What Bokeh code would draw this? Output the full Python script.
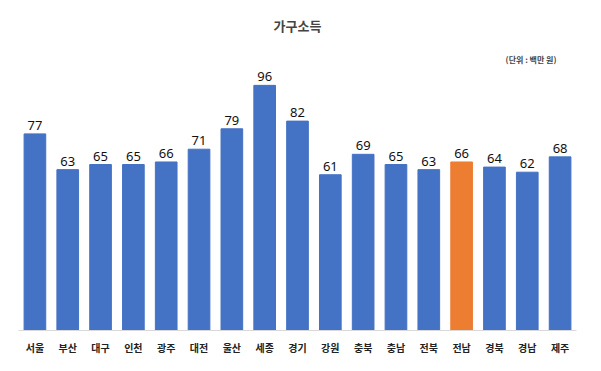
from bokeh.plotting import figure
from bokeh.models import ColumnDataSource, Title, FactorRange, Range1d
from bokeh.embed import file_html
from bokeh.resources import INLINE
from bokeh.core.properties import value

regions = ["서울", "부산", "대구", "인천", "광주", "대전", "울산", "세종", "경기", "강원",
           "충북", "충남", "전북", "전남", "경북", "경남", "제주"]
income = [77, 63, 65, 65, 66, 71, 79, 96, 82, 61, 69, 65, 63, 66, 64, 62, 68]
highlight = "전남"
blue = "#4472C4"
orange = "#ED7D31"
colors = [orange if r == highlight else blue for r in regions]

src = ColumnDataSource(dict(region=regions, income=income, color=colors,
                            label=[str(v) for v in income]))

p = figure(x_range=FactorRange(*regions), y_range=Range1d(0, 103),
           width=585, height=357, output_backend="svg", toolbar_location=None,
           min_border_left=18, min_border_right=9, min_border_top=0, min_border_bottom=20)

p.title.text = "가구소득"
p.title.align = "center"
p.title.text_font = "Noto Sans CJK KR"
p.title.text_font_size = "13px"
p.title.text_font_style = "bold"
p.title.offset = 0
p.title.standoff = 27

unit = Title(text="(단위 : 백만 원)", align="right", text_font="Noto Sans CJK KR",
             text_font_size="8px", text_font_style="bold", offset=20, standoff=6)
p.add_layout(unit, "above")

p.vbar(x="region", top="income", width=0.66, color="color", source=src)
p.text(x="region", y="income", text="label", source=src, text_align="center",
       text_baseline="bottom", y_offset=-4, text_font=value("Noto Sans"),
       text_font_size="13px", text_color="#111111")

p.outline_line_color = None
p.xgrid.grid_line_color = None
p.ygrid.grid_line_color = None
p.yaxis.visible = False
p.xaxis.axis_line_color = "#d9d9d9"
p.xaxis.major_tick_line_color = None
p.xaxis.minor_tick_line_color = None
p.xaxis.major_label_text_font = "Noto Sans CJK KR"
p.xaxis.major_label_text_font_size = "10px"
p.xaxis.major_label_text_font_style = "bold"
p.xaxis.major_label_text_color = "#222222"
p.xaxis.major_label_standoff = 3
p.x_range.range_padding = 0

open("out.html", "w").write(file_html(p, INLINE))
